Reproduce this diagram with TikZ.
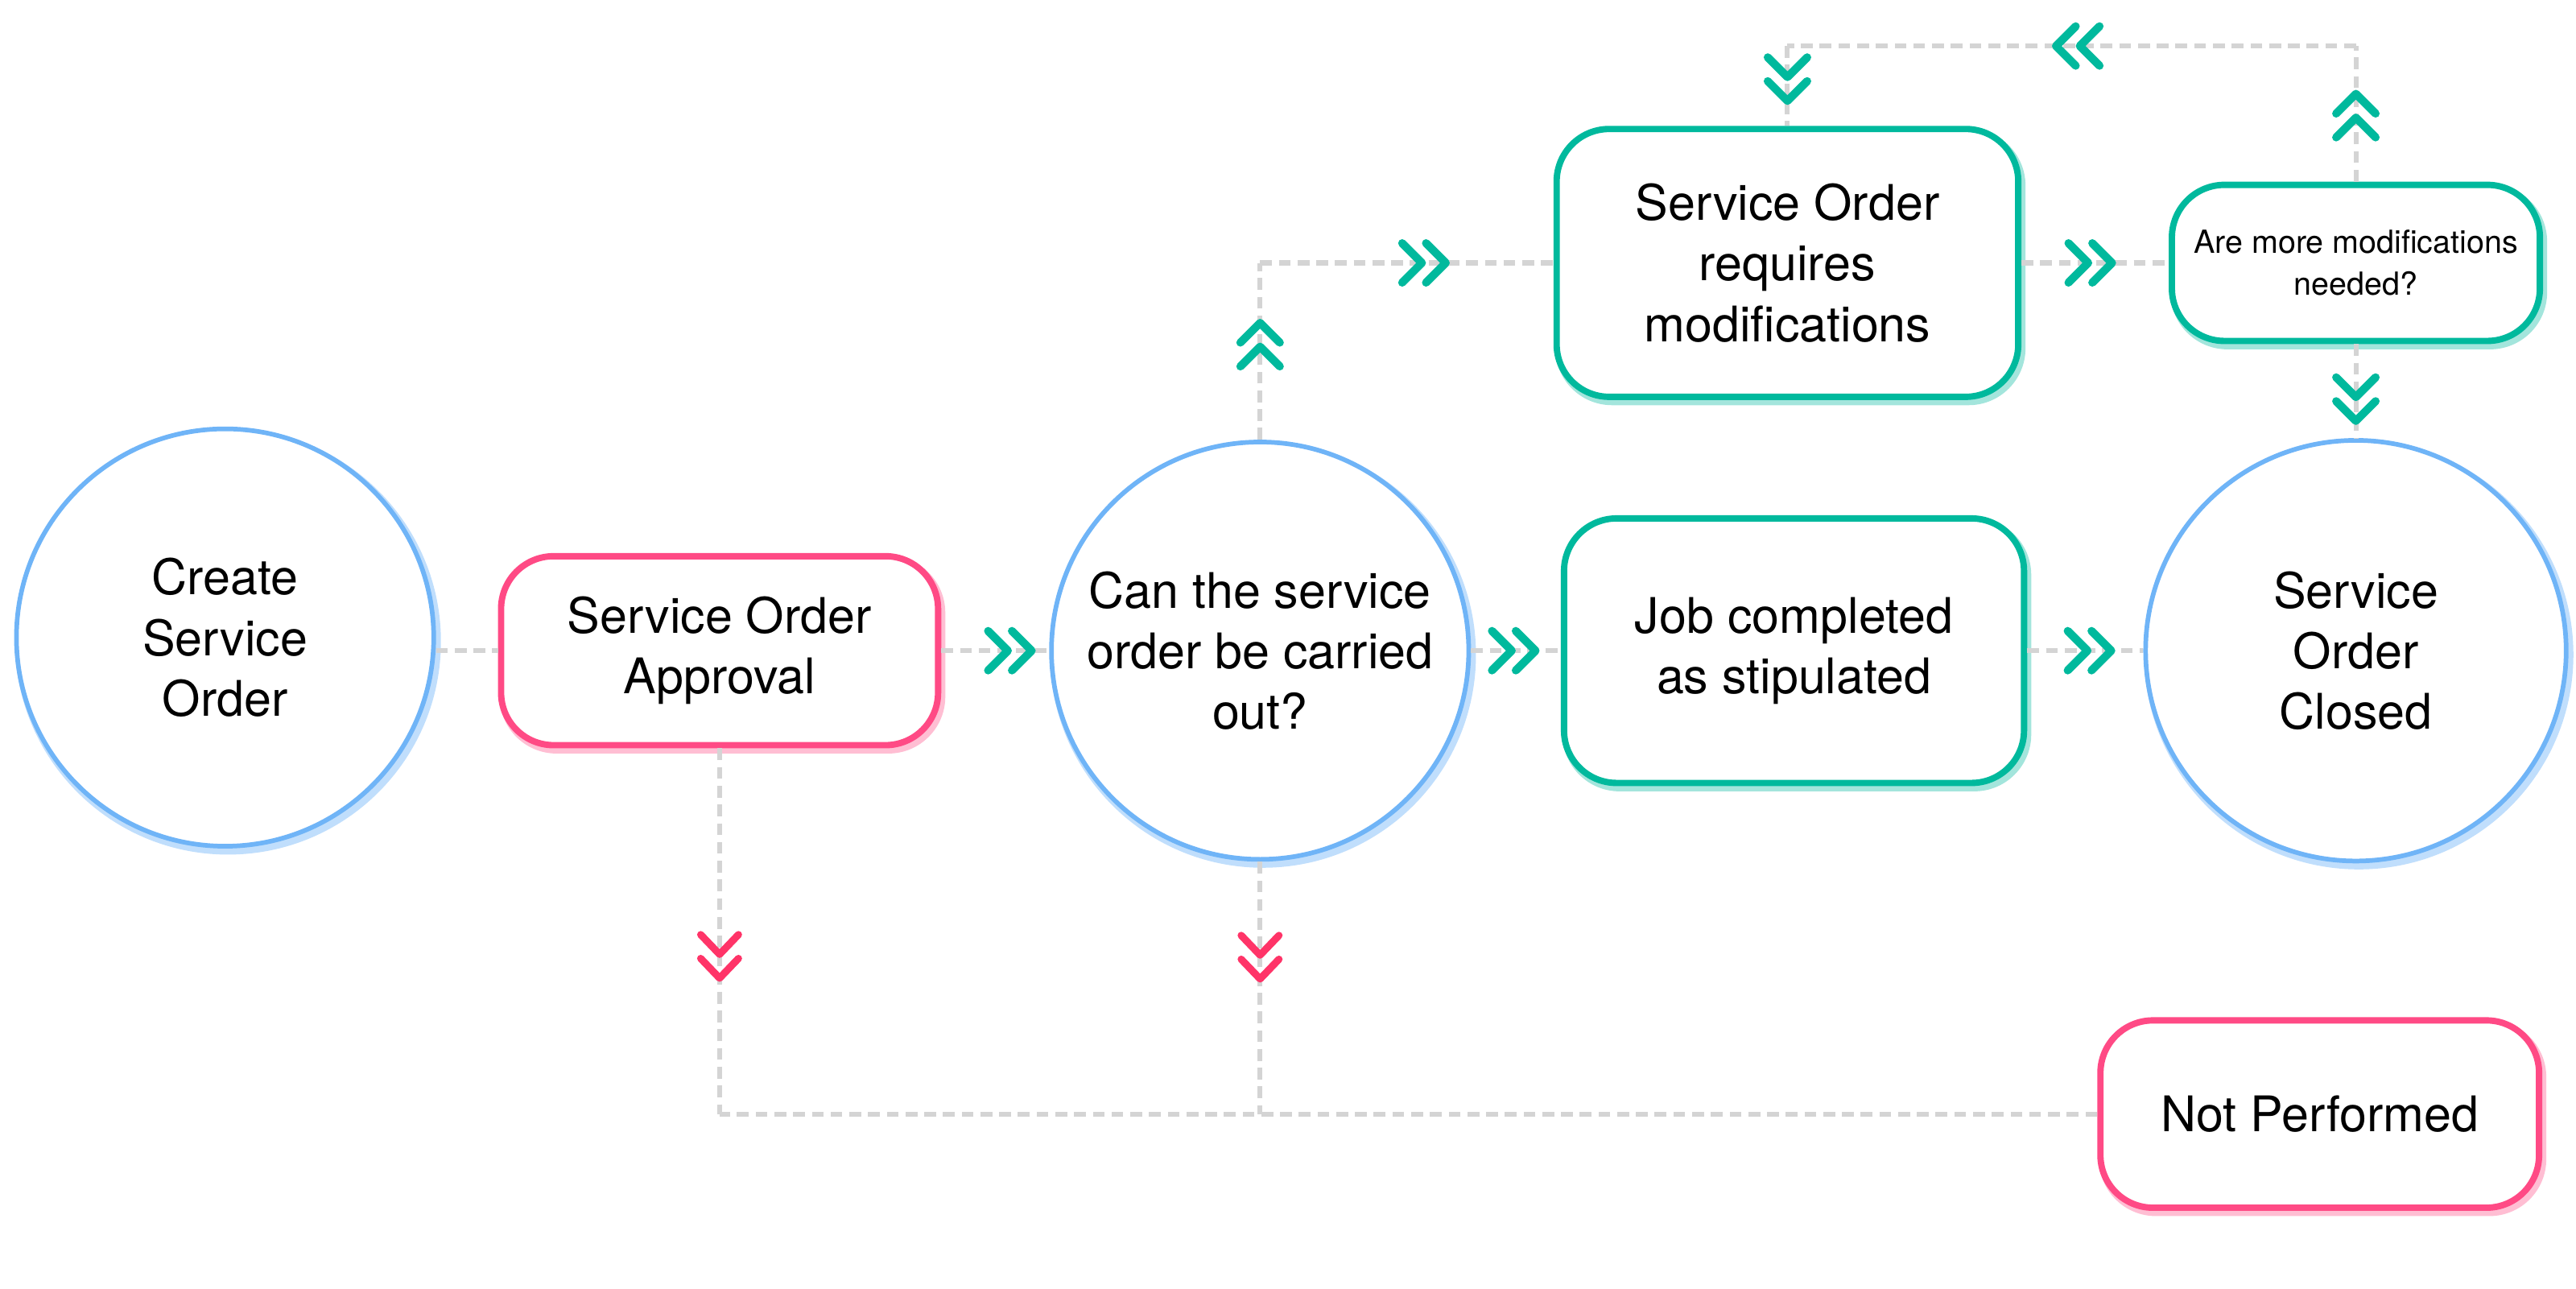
\documentclass[tikz,border=0pt]{standalone}
\usepackage{fontspec}
\setmainfont{TeX Gyre Heros}
\usepackage{tikz}
\usetikzlibrary{shadows,decorations.markings}
\usepackage[dvipsnames]{xcolor}
\definecolor{skyc}{HTML}{6FB4F7}
\definecolor{rosec}{HTML}{FF4A85}
\definecolor{chevpink}{HTML}{FF3468}
\definecolor{tealc}{HTML}{00B99D}
\definecolor{dashc}{HTML}{D4D4D4}

\begin{document}
\begin{tikzpicture}

  \tikzstyle{bubble}=[circle,draw=skyc,line width=0.8pt,fill=white,minimum size=2.54cm,inner sep=0pt,align=center,
    font=\fontsize{8.5}{10.5}\selectfont,
    drop shadow={shadow xshift=0.5pt,shadow yshift=-0.7pt,fill=none,draw=skyc!55,line width=1.5pt,opacity=0.8}]
  \tikzstyle{okbox}=[rectangle,rounded corners=0.32cm,draw=tealc,line width=1.1pt,fill=white,inner sep=0pt,align=center,
    font=\fontsize{8.5}{10.5}\selectfont,
    drop shadow={shadow xshift=0.5pt,shadow yshift=-0.7pt,fill=none,draw=tealc!45,line width=1.5pt,opacity=0.8}]
  \tikzstyle{nobox}=[rectangle,rounded corners=0.32cm,draw=rosec,line width=1.1pt,fill=white,inner sep=0pt,align=center,
    font=\fontsize{8.5}{10.5}\selectfont,
    drop shadow={shadow xshift=0.5pt,shadow yshift=-0.7pt,fill=none,draw=rosec!45,line width=1.5pt,opacity=0.8}]
  \tikzstyle{link}=[draw=dashc,line width=0.85pt,dash pattern=on 0.72mm off 0.42mm]
  \tikzset{
    gochev/.style={postaction={decorate,decoration={markings,mark=at position #1 with {
      \draw[solid,tealc,line width=1.4pt,line cap=round,line join=round]
        (0.1mm,1.2mm) -- (1.3mm,0) -- (0.1mm,-1.2mm)
        (-1.35mm,1.2mm) -- (-0.15mm,0) -- (-1.35mm,-1.2mm);}}}},
    nochev/.style={postaction={decorate,decoration={markings,mark=at position #1 with {
      \draw[solid,chevpink,line width=1.25pt,line cap=round,line join=round]
        (0.1mm,1.15mm) -- (1.3mm,0) -- (0.1mm,-1.15mm)
        (-1.35mm,1.15mm) -- (-0.15mm,0) -- (-1.35mm,-1.15mm);}}}}
  }

  \useasboundingbox (0,0) rectangle (15.68,7.84);

  \node[bubble] (create) at (1.37,3.96) {Create\\Service\\Order};
  \node[nobox,minimum width=2.66cm,minimum height=1.15cm] (approve) at (4.38,3.88) {Service Order\\Approval};
  \node[bubble] (canbe) at (7.67,3.88) {Can the service\\order be carried\\out?};
  \node[okbox,minimum width=2.80cm,minimum height=1.61cm] (job) at (10.92,3.88) {Job completed\\as stipulated};
  \node[bubble,minimum size=2.56cm] (closed) at (14.34,3.88) {Service\\Order\\Closed};
  \node[okbox,minimum width=2.81cm,minimum height=1.63cm] (modify) at (10.88,6.24) {Service Order\\requires\\modifications};
  \node[okbox,minimum width=2.24cm,minimum height=0.95cm,font=\fontsize{5.5}{7.2}\selectfont] (more) at (14.34,6.24) {Are more modifications\\needed?};
  \node[nobox,minimum width=2.67cm,minimum height=1.14cm] (notperf) at (14.12,1.06) {Not Performed};

  \coordinate (up) at (canbe.north |- modify.west);
  \coordinate (topr) at (14.34,7.56);
  \coordinate (topl) at (modify.north |- topr);
  \coordinate (downa) at (approve.south |- notperf.west);
  \coordinate (downc) at (canbe.south |- notperf.west);

  % main row
  \draw[link] (create.east |- approve.west) -- (approve.west);
  \draw[link,gochev=0.64] (approve) -- (canbe);
  \draw[link,gochev=0.48] (canbe) -- (job);
  \draw[link,gochev=0.54] (job) -- (closed);

  % modifications loop
  \draw[link,gochev=0.54] (canbe.north) -- (up);
  \draw[link,gochev=0.56] (up) -- (modify.west);
  \draw[link,gochev=0.47] (modify) -- (more);
  \draw[link,gochev=0.59] (more) -- (closed);
  \draw[link,gochev=0.49] (more.north) -- (topr);
  \draw[link,gochev=0.49] (topr) -- (topl);
  \draw[link,gochev=0.42] (topl) -- (modify.north);

  % not performed
  \draw[link,nochev=0.57] (approve.south) -- (downa);
  \draw[link,nochev=0.38] (canbe.south) -- (downc);
  \draw[link] (notperf.west) -- (downa);

\end{tikzpicture}
\end{document}
